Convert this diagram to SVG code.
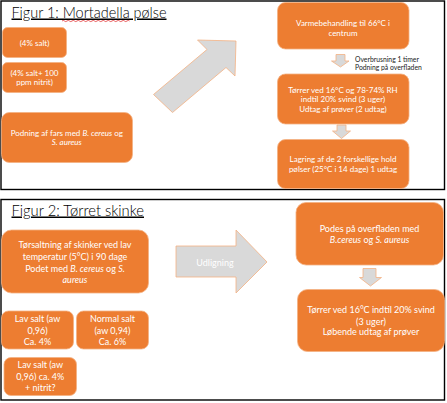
<svg xmlns="http://www.w3.org/2000/svg" width="447" height="403" viewBox="0 0 447 403">
<style>
.frame{fill:#ffffff;stroke:#000000;stroke-width:1.4}
.box{fill:#ed7d31;stroke:#f4b183;stroke-width:0.8}
.arr{fill:#d9d9d9;stroke:#f4b183;stroke-width:0.8}
.t{font-family:Lato,"Open Sans","Liberation Sans",sans-serif;fill:#ffffff;text-anchor:middle;dominant-baseline:central}
.s1{font-size:8px}
.s2{font-size:9px}
.ttl{font-family:Lato,"Open Sans","Liberation Sans",sans-serif;font-weight:300;font-size:15px;fill:#000000;text-decoration:underline}
.lbl{font-family:Lato,"Open Sans","Liberation Sans",sans-serif;font-size:6.8px;fill:#222222;dominant-baseline:central}
.i{font-style:italic}
</style>
<rect class="frame" x="1" y="1" width="443.5" height="188.5"/>
<rect class="frame" x="1" y="199.5" width="443.5" height="200.5"/>
<g id="title1">
<text class="ttl" x="11.5" y="17.5" textLength="155" lengthAdjust="spacingAndGlyphs">Figur 1: Mortadella pølse</text>
<path d="M62,21 q1.25,-1.2 2.5,0 t2.5,0 t2.5,0 t2.5,0 t2.5,0 t2.5,0 t2.5,0 t2.5,0 t2.5,0 t2.5,0 t2.5,0 t2.5,0 t2.5,0 t2.5,0 t2.5,0 t2.5,0 t2.5,0 t2.5,0 t2.5,0 t2.5,0 t2.5,0 t2.5,0 t2.5,0 t2.5,0 t2.5,0 t2.5,0 t2.5,0" fill="none" stroke="#e02020" stroke-width="0.7"/>
</g>
<g id="title2">
<text class="ttl" x="11.5" y="215.5" textLength="132.5" lengthAdjust="spacingAndGlyphs">Figur 2: Tørret skinke</text>
</g>
<g id="connectors">
<polygon class="arr" points="153.5,94.5 207,49.5 197.5,40 236,41 235,76 226,67.5 172.5,112.5"/>
<polygon class="arr" points="176,246 236,246 236,230 267,262 236,293 236,277 176,277"/>
<polygon class="arr" points="336,54.5 345,54.5 345,61 349,61 340.5,67 331.5,61 336,61"/>
<polygon class="arr" points="337,125 346,125 346,131 350.5,131 341.5,138.5 332.5,131 337,131"/>
<polygon class="arr" points="363,268.5 376,268.5 376,277.5 381.5,277.5 370.5,286 359.5,277.5 363,277.5"/>
</g>
<g id="udligning-label">
<text class="t s2" x="215" y="262">Udligning</text>
</g>
<g id="n-salt4">
<rect class="box" x="2.5" y="27.5" width="64" height="30" rx="5"/>
<text class="t s1" x="34.5" y="42.5">(4% salt)</text>
</g>
<g id="n-salt4-nitrit">
<rect class="box" x="2.5" y="62.5" width="64" height="30" rx="5"/>
<text class="t s1" x="34.5" y="72.5">(4% salt+ 100</text>
<text class="t s1" x="34.5" y="81.7">ppm nitrit)</text>
</g>
<g id="n-podning-fars">
<rect class="box" x="1.5" y="112.5" width="131" height="50" rx="8"/>
<text class="t s1" x="66.8" y="133.3">Podning af fars med <tspan class="i">B. cereus</tspan> og</text>
<text class="t s1 i" x="66.8" y="142.3">S. aureus</text>
</g>
<g id="n-varme">
<rect class="box" x="277.5" y="2.5" width="131.5" height="46.5" rx="8"/>
<text class="t s1" x="343" y="23.3">Varmebehandling til 66°C i</text>
<text class="t s1" x="343" y="33.3">centrum</text>
</g>
<g id="l-overbrusning">
<text class="lbl" x="355" y="58.7">Overbrusning 1 timer</text>
<text class="lbl" x="355" y="66.7">Podning på overfladen</text>
</g>
<g id="n-torrer1">
<rect class="box" x="277.5" y="74" width="131.5" height="50" rx="8"/>
<text class="t s1" x="343" y="89.5">Tørrer ved 16°C og 78-74% RH</text>
<text class="t s1" x="343" y="99.3">indtil 20% svind (3 uger)</text>
<text class="t s1" x="343" y="109">Udtag af prøver (2 udtag)</text>
</g>
<g id="n-lagring">
<rect class="box" x="277.5" y="139.5" width="131.5" height="49" rx="8"/>
<text class="t s1" x="343" y="159.3">Lagring af de 2 forskellige hold</text>
<text class="t s1" x="343" y="169">pølser (25°C i 14 dage) 1 udtag</text>
</g>
<g id="n-torsaltning">
<rect class="box" x="1.5" y="230" width="147" height="63" rx="10"/>
<text class="t s2" x="75" y="244">Tørsaltning af skinker ved lav</text>
<text class="t s2" x="75" y="256.3">temperatur (5°C) i 90 dage</text>
<text class="t s2" x="75" y="268">Podet med <tspan class="i">B. cereus</tspan> og <tspan class="i">S.</tspan></text>
<text class="t s2 i" x="75" y="279.5">aureus</text>
</g>
<g id="n-lavsalt">
<rect class="box" x="1.5" y="311" width="72" height="38" rx="7"/>
<text class="t s2" x="37.5" y="318.3">Lav salt (aw</text>
<text class="t s2" x="37.5" y="330">0,96)</text>
<text class="t s2" x="37.5" y="341.7">Ca. 4%</text>
</g>
<g id="n-normalsalt">
<rect class="box" x="76.5" y="311" width="72" height="38" rx="7"/>
<text class="t s2" x="112.5" y="318.3">Normal salt</text>
<text class="t s2" x="112.5" y="330">(aw 0,94)</text>
<text class="t s2" x="112.5" y="341.7">Ca. 6%</text>
</g>
<g id="n-lavsalt-nitrit">
<rect class="box" x="4" y="357.5" width="72.5" height="38" rx="7"/>
<text class="t s2" x="40.3" y="364">Lav salt (aw</text>
<text class="t s2" x="40.3" y="376">0,96) ca. 4%</text>
<text class="t s2" x="40.3" y="387.3">+ nitrit?</text>
</g>
<g id="n-podes">
<rect class="box" x="296" y="202.5" width="147.5" height="62.5" rx="10"/>
<text class="t s2" x="369.5" y="228.3">Podes på overfladen med</text>
<text class="t s2" x="369.5" y="239"><tspan class="i">B.cereus</tspan> og <tspan class="i">S. aureus</tspan></text>
</g>
<g id="n-torrer2">
<rect class="box" x="297.5" y="289.5" width="147" height="62" rx="10"/>
<text class="t s2" x="371" y="309">Tørrer ved 16°C  indtil 20% svind</text>
<text class="t s2" x="371" y="321">(3 uger)</text>
<text class="t s2" x="371" y="331.7">Løbende udtag af prøver</text>
</g>
</svg>
